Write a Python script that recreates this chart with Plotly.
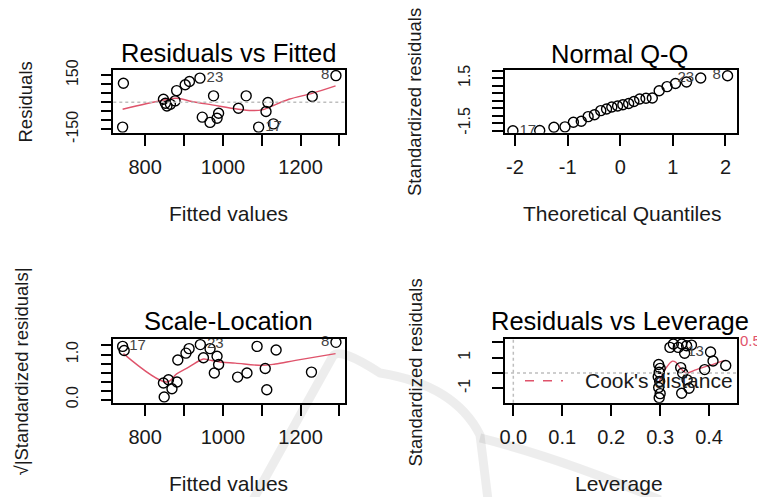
import plotly.graph_objects as go

# page body has an 8px margin: the figure is sized/offset so that positions match the 765x497 view
VIEW_W, VIEW_H = 765, 497
OFF = 8
W, H = VIEW_W - OFF, VIEW_H - OFF
FONT = "Liberation Sans, Arial, Helvetica, sans-serif"
RED = "#DF536B"
TXT = "#1a1a1a"

# ---------------- data ----------------
# Panel 1: Residuals vs Fitted
fitted = [744, 742, 847, 852, 856, 865, 877, 881, 903, 914, 941, 976,
          947, 967, 985, 989, 1040, 1060, 1092, 1111, 1116, 1130, 1230, 1291]
residuals = [105, -138, 16, -6, -21, -12, 7, 64, 96, 114, 133, 35,
             -83, -112, -89, -61, -34, 35, -138, -52, -2, -120, 31, 147]
rvf_smooth_x = [742, 843, 881, 920, 972, 1040, 1075, 1101, 1118, 1170, 1230, 1290]
rvf_smooth_y = [-39, 9, 22, 4, -15, -39, -46, -43, -30, 16, 49, 90]
rvf_label_idx = [10, 23, 18]
rvf_label_txt = ["23", "8", "17"]
rvf_label_pos = ["middle right", "middle left", "middle right"]

# Panel 2: Normal Q-Q
theoretical_q = [-2.04, -1.53, -1.26, -1.05, -0.89, -0.74, -0.61, -0.49, -0.37, -0.26,
                 -0.16, -0.05, 0.05, 0.16, 0.26, 0.37, 0.49, 0.61, 0.74, 0.89,
                 1.05, 1.26, 1.53, 2.04]
std_resid_sorted = [-2.0, -1.98, -1.77, -1.74, -1.43, -1.37, -1.06, -0.93, -0.66, -0.55,
                    -0.42, -0.35, -0.27, -0.18, -0.05, 0.12, 0.17, 0.18, 0.67, 0.94,
                    1.15, 1.25, 1.52, 1.67]
qq_label_idx = [0, 22, 23]
qq_label_txt = ["17", "23", "8"]
qq_label_pos = ["middle right", "middle left", "middle left"]

# Panel 3: Scale-Location
sl_fitted = [742, 746, 849, 847, 860, 869, 882, 884, 905, 913, 942, 950,
             967, 978, 985, 989, 1038, 1062, 1088, 1109, 1113, 1137, 1228, 1291]
sl_sqrt_std = [1.18, 1.09, 0.06, 0.37, 0.44, 0.24, 0.39, 0.88, 1.03, 1.13, 1.22, 0.93,
               1.13, 0.59, 0.96, 0.78, 0.50, 0.59, 1.18, 0.69, 0.22, 1.10, 0.61, 1.27]
sl_smooth_x = [744, 856, 881, 912, 950, 963, 998, 1032, 1101, 1135, 1187, 1290]
sl_smooth_y = [1.02, 0.39, 0.57, 0.72, 0.90, 0.88, 0.83, 0.81, 0.76, 0.79, 0.87, 1.02]
sl_label_idx = [0, 10, 23]
sl_label_txt = ["17", "23", "8"]
sl_label_pos = ["middle right", "middle right", "middle left"]

# Panel 4: Residuals vs Leverage
leverage = [0.297, 0.300, 0.298, 0.296, 0.299, 0.297, 0.300, 0.298,
            0.320, 0.327, 0.337, 0.344, 0.354, 0.364, 0.350,
            0.403, 0.408, 0.434, 0.391,
            0.342, 0.346, 0.355, 0.359, 0.344]
lev_std_resid = [0.55, 0.30, 0.05, -0.25, -0.55, -0.95, -1.35, -1.62,
                 1.67, 1.89, 1.67, 1.89, 1.78, 1.82, 1.29,
                 1.37, 0.78, 0.49, 0.22,
                 0.35, 0.0, -0.45, -1.0, -1.33]
lev_smooth_x = [0.298, 0.311, 0.325, 0.332, 0.344, 0.354, 0.374, 0.401, 0.432]
lev_smooth_y = [-0.56, 0.27, 0.77, 0.70, 0.22, 0.0, 0.22, 0.49, 0.82]
lev_label_idx = [15]
lev_label_txt = ["13"]
lev_label_pos = ["middle left"]

# tick values / labels
p1_xticks = [800, 900, 1000, 1100, 1200, 1300]
p1_xtext = ["800", "", "1000", "", "1200", ""]
p1_yticks = [-150, -100, -50, 0, 50, 100, 150]
p1_ytext = ["-150", "", "", "", "", "", "150"]
p2_xticks = [-2, -1, 0, 1, 2]
p2_xtext = ["-2", "-1", "0", "1", "2"]
p2_yticks = [-2.0, -1.5, -1.0, -0.5, 0.0, 0.5, 1.0, 1.5, 2.0]
p2_ytext = ["", "-1.5", "", "", "", "", "", "1.5", ""]
p3_yticks = [0.0, 0.2, 0.4, 0.6, 0.8, 1.0, 1.2]
p3_ytext = ["0.0", "", "", "", "", "1.0", ""]
p4_xticks = [0.0, 0.1, 0.2, 0.3, 0.4]
p4_xtext = ["0.0", "0.1", "0.2", "0.3", "0.4"]
p4_yticks = [-1, 0, 1, 2]
p4_ytext = ["-1", "", "1", ""]


def px(x):
    return (x - OFF) / W


def py(y):
    return 1 - (y - OFF) / H


fig = go.Figure()


def add_panel(n, xs, ys, sx, sy, lidx, ltxt, lpos):
    xa = "x" if n == 1 else f"x{n}"
    ya = "y" if n == 1 else f"y{n}"
    if sx is not None:
        fig.add_trace(go.Scatter(x=sx, y=sy, mode="lines", xaxis=xa, yaxis=ya,
                                 line=dict(color=RED, width=1.4, shape="spline"),
                                 showlegend=False, hoverinfo="skip"))
    fig.add_trace(go.Scatter(x=xs, y=ys, mode="markers", xaxis=xa, yaxis=ya,
                             marker=dict(symbol="circle-open", size=10, color="black",
                                         line=dict(width=1.4, color="black")),
                             showlegend=False, hoverinfo="skip"))
    fig.add_trace(go.Scatter(x=[xs[i] for i in lidx], y=[ys[i] for i in lidx],
                             mode="markers+text", text=ltxt, textposition=lpos,
                             marker=dict(size=9, opacity=0),
                             textfont=dict(size=15, color="#444", family=FONT),
                             xaxis=xa, yaxis=ya, cliponaxis=False,
                             showlegend=False, hoverinfo="skip"))


add_panel(1, fitted, residuals, rvf_smooth_x, rvf_smooth_y, rvf_label_idx, rvf_label_txt, rvf_label_pos)
add_panel(2, theoretical_q, std_resid_sorted, None, None, qq_label_idx, qq_label_txt, qq_label_pos)
add_panel(3, sl_fitted, sl_sqrt_std, sl_smooth_x, sl_smooth_y, sl_label_idx, sl_label_txt, sl_label_pos)
add_panel(4, leverage, lev_std_resid, lev_smooth_x, lev_smooth_y, lev_label_idx, lev_label_txt, lev_label_pos)


def axis(domain, rng, tv, tt, anchor, is_y):
    return dict(domain=domain, range=rng, tickmode="array", tickvals=tv, ticktext=tt,
                showline=True, mirror=True, linecolor="black", linewidth=1.6,
                ticks="outside", ticklen=11, tickwidth=1.5, tickcolor="black",
                showgrid=False, zeroline=False, anchor=anchor, automargin=False,
                tickangle=-90 if is_y else 0,
                ticklabelstandoff=16 if is_y else 4,
                tickfont=dict(size=16 if is_y else 20, color=TXT, family=FONT))


# box pixel positions (in the 765x497 view)
L1, R1 = 113.3, 344.5
L2, R2 = 505, 736.5
T1, B1 = 70, 132.7
T2, B2 = 338.5, 402.8

fig.update_layout(
    xaxis=axis([px(L1), px(R1)], [718, 1313], p1_xticks, p1_xtext, "y", False),
    yaxis=axis([py(B1), py(T1)], [-169, 178], p1_yticks, p1_ytext, "x", True),
    xaxis2=axis([px(L2), px(R2)], [-2.19, 2.21], p2_xticks, p2_xtext, "y2", False),
    yaxis2=axis([py(B1), py(T1)], [-2.13, 2.05], p2_yticks, p2_ytext, "x2", True),
    xaxis3=axis([px(L1), px(R1)], [718, 1313], p1_xticks, p1_xtext, "y3", False),
    yaxis3=axis([py(B2), py(T2)], [-0.07, 1.355], p3_yticks, p3_ytext, "x3", True),
    xaxis4=axis([px(L2), px(R2)], [-0.017, 0.456], p4_xticks, p4_xtext, "y4", False),
    yaxis4=axis([py(B2), py(T2)], [-1.95, 2.25], p4_yticks, p4_ytext, "x4", True),
)

shapes = []
# watermark (faint grey strokes)
wm = dict(type="path", xref="paper", yref="paper", layer="below",
          line=dict(color="rgba(0,0,0,0.07)", width=9))
p = lambda x, y: f"{px(x):.4f},{py(y):.4f}"
shapes.append(dict(wm, path=f"M{p(253,500)} L{p(333,356)} Q{p(340,347)} {p(380,373)} "
                            f"Q{p(455,385)} {p(480,435)} L{p(488,500)}"))
shapes.append(dict(wm, path=f"M{p(480,438)} Q{p(560,458)} {p(660,500)}"))
# dotted reference lines
dot = dict(color="#BEBEBE", width=1.5, dash="dot")
shapes.append(dict(type="line", xref="x domain", yref="y", x0=0, x1=1, y0=0, y1=0, line=dot))
shapes.append(dict(type="line", xref="x4 domain", yref="y4", x0=0, x1=1, y0=0, y1=0, line=dot))
shapes.append(dict(type="line", xref="x4", yref="y4 domain", x0=0, x1=0, y0=0, y1=1, line=dot))
# legend line for Cook's distance
shapes.append(dict(type="line", xref="paper", yref="paper", x0=px(525), x1=px(563),
                   y0=py(380.7), y1=py(380.7), line=dict(color=RED, width=1.5, dash="dash")))
fig.update_layout(shapes=shapes)

ann = []


def text(x, y, s, size, angle=0, color=TXT, xanchor="center"):
    ann.append(dict(x=px(x), y=py(y), xref="paper", yref="paper", text=s, showarrow=False,
                    textangle=angle, xanchor=xanchor, yanchor="middle",
                    font=dict(size=size, color=color, family=FONT)))


text(228, 53, "Residuals vs Fitted", 25.5, color="black")
text(619, 54, "Normal Q-Q", 25.5, color="black")
text(228, 321, "Scale-Location", 25.5, color="black")
text(620, 321, "Residuals vs Leverage", 25.5, color="black")
text(228, 213, "Fitted values", 21)
text(622, 214, "Theoretical Quantiles", 21)
text(228, 483, "Fitted values", 21)
text(619, 483, "Leverage", 21)
text(25, 102.5, "Residuals", 18.5, angle=-90)
text(415, 102, "Standardized residuals", 18.5, angle=-90)
text(21, 371.5, "√|Standardized residuals|", 18.5, angle=-90)
text(415, 372.5, "Standardized residuals", 18.5, angle=-90)
text(583, 380.7, "Cook's distance", 21, xanchor="left")
text(750.5, 340.7, "0.5", 15, color=RED)

fig.update_layout(annotations=ann, width=W, height=H,
                  margin=dict(l=0, r=0, t=0, b=0, autoexpand=False),
                  paper_bgcolor="white", plot_bgcolor="rgba(0,0,0,0)",
                  font=dict(family=FONT), showlegend=False)

fig.write_html("out.html")
